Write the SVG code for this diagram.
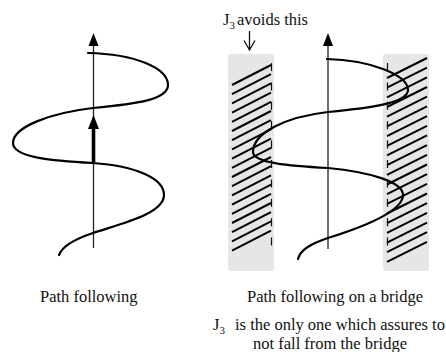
<svg xmlns="http://www.w3.org/2000/svg" width="446" height="352" viewBox="0 0 446 352">
  <defs>
    <style>
      .curve { fill: none; stroke: #000; stroke-width: 2.2; stroke-linecap: round; }
      .axis { fill: none; stroke: #222; stroke-width: 1.3; }
      .band { fill: #e6e6e6; }
      .hatch { fill: none; stroke: #000; stroke-width: 2; stroke-linecap: butt; }
      .edge { fill: none; stroke: #111; stroke-width: 1.2; stroke-dasharray: 8 11.4; }
      .head { fill: #000; }
      .lbl { font-family: 'Liberation Serif', 'Times New Roman', serif; font-size: 16.5px; fill: #111; }
      .sub { font-size: 11px; }
    </style>
  </defs>
  <rect width="446" height="352" fill="#fff"/>

  <g id="left-figure">
    <line class="axis" x1="93.5" y1="44" x2="93.5" y2="248"/>
    <polygon class="head" points="93.5,33 88.5,46 98.5,46"/>
    <path class="curve" d="M 88,53 C 135,54 168,68 168,85 C 168,100 135,104 93,108 C 50,113 13,127 13,143 C 13,158 55,161 93,163 C 135,166 164,178 164,195 C 164,214 120,224 93,233 C 75,239 62,247 59,255"/>
    <line x1="93.5" y1="162" x2="93.5" y2="127" stroke="#000" stroke-width="3.6"/>
    <polygon class="head" points="93.5,115 88,129 99,129"/>
  </g>

  <g id="left-band">
    <rect class="band" x="228" y="54" width="46" height="217" rx="3"/>
    <g class="hatch">
      <line x1="232" y1="85" x2="271" y2="65"/>
      <line x1="232" y1="94.2" x2="271" y2="74.2"/>
      <line x1="232" y1="103.4" x2="271" y2="83.4"/>
      <line x1="232" y1="112.6" x2="271" y2="92.6"/>
      <line x1="232" y1="121.8" x2="271" y2="101.8"/>
      <line x1="232" y1="131" x2="271" y2="111"/>
      <line x1="232" y1="140.2" x2="271" y2="120.2"/>
      <line x1="232" y1="149.4" x2="271" y2="129.4"/>
      <line x1="232" y1="158.6" x2="271" y2="138.6"/>
      <line x1="232" y1="167.8" x2="271" y2="147.8"/>
      <line x1="232" y1="177" x2="271" y2="157"/>
      <line x1="232" y1="186.2" x2="271" y2="166.2"/>
      <line x1="232" y1="195.4" x2="271" y2="175.4"/>
      <line x1="232" y1="204.6" x2="271" y2="184.6"/>
      <line x1="232" y1="213.8" x2="271" y2="193.8"/>
      <line x1="232" y1="223" x2="271" y2="203"/>
      <line x1="232" y1="232.2" x2="271" y2="212.2"/>
      <line x1="232" y1="241.4" x2="271" y2="221.4"/>
      <line x1="232" y1="250.6" x2="271" y2="230.6"/>
    </g>
    <line class="edge" x1="271.5" y1="63" x2="271.5" y2="248"/>
  </g>

  <g id="right-band">
    <rect class="band" x="383" y="54" width="46" height="217" rx="3"/>
    <g class="hatch">
      <line x1="387" y1="78" x2="427" y2="58"/>
      <line x1="387" y1="87.7" x2="427" y2="67.7"/>
      <line x1="387" y1="97.4" x2="427" y2="77.4"/>
      <line x1="387" y1="107" x2="427" y2="87"/>
      <line x1="387" y1="116.7" x2="427" y2="96.7"/>
      <line x1="387" y1="126.4" x2="427" y2="106.4"/>
      <line x1="387" y1="136.1" x2="427" y2="116.1"/>
      <line x1="387" y1="145.8" x2="427" y2="125.8"/>
      <line x1="387" y1="155.4" x2="427" y2="135.4"/>
      <line x1="387" y1="165.1" x2="427" y2="145.1"/>
      <line x1="387" y1="174.8" x2="427" y2="154.8"/>
      <line x1="387" y1="184.5" x2="427" y2="164.5"/>
      <line x1="387" y1="194.2" x2="427" y2="174.2"/>
      <line x1="387" y1="203.8" x2="427" y2="183.8"/>
      <line x1="387" y1="213.5" x2="427" y2="193.5"/>
      <line x1="387" y1="223.2" x2="427" y2="203.2"/>
      <line x1="387" y1="232.9" x2="427" y2="212.9"/>
      <line x1="387" y1="242.6" x2="427" y2="222.6"/>
      <line x1="387" y1="252.2" x2="427" y2="232.2"/>
      <line x1="387" y1="261.9" x2="427" y2="241.9"/>
    </g>
    <line class="edge" x1="387.5" y1="63" x2="387.5" y2="250"/>
  </g>

  <g id="right-figure">
    <line class="axis" x1="328" y1="44" x2="328" y2="249"/>
    <polygon class="head" points="328,33 323,46 333,46"/>
    <path class="curve" d="M 327,59 C 370,60 408,75 408,90 C 408,103 370,108 328,112 C 285,117 253,133 253,152 C 253,163 290,166 328,168 C 370,172 403,182 403,195 C 403,212 360,228 328,238 C 310,244 300,250 298,259"/>
  </g>

  <g id="annotation">
    <text class="lbl" font-family="Liberation Serif, Times New Roman, serif" x="223" y="25">J</text>
    <text class="lbl sub" font-family="Liberation Serif, Times New Roman, serif" x="229.5" y="29">3</text>
    <text class="lbl" font-family="Liberation Serif, Times New Roman, serif" x="237" y="25">avoids this</text>
    <path d="M 249.5 31 L 249.5 50 M 244 40.5 L 249.5 50 L 255 40.5" fill="none" stroke="#111" stroke-width="1.3"/>
  </g>

  <g id="labels">
    <text class="lbl" font-family="Liberation Serif, Times New Roman, serif" x="40" y="302">Path following</text>
    <text class="lbl" font-family="Liberation Serif, Times New Roman, serif" x="247" y="302">Path following on a bridge</text>
    <text class="lbl" font-family="Liberation Serif, Times New Roman, serif" x="213" y="330">J</text>
    <text class="lbl sub" font-family="Liberation Serif, Times New Roman, serif" x="219.5" y="334">3</text>
    <text class="lbl" font-family="Liberation Serif, Times New Roman, serif" x="235" y="330">is the only one which assures to</text>
    <text class="lbl" font-family="Liberation Serif, Times New Roman, serif" x="330" y="349" text-anchor="middle">not fall from the bridge</text>
  </g>
</svg>
